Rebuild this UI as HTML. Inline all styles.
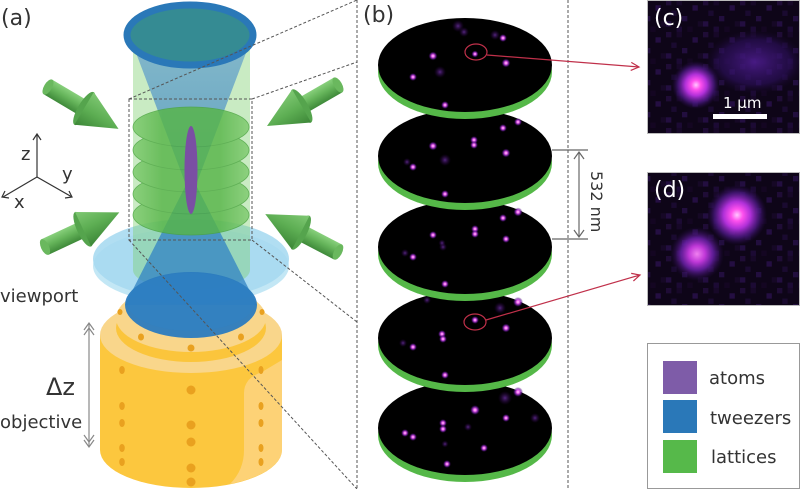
<!DOCTYPE html>
<html><head><meta charset="utf-8"><style>html,body{margin:0;padding:0;background:#fff;width:800px;height:489px;overflow:hidden}svg{display:block}text{font-family:"DejaVu Sans","Liberation Sans",sans-serif}</style></head><body>
<svg width="800" height="489" viewBox="0 0 800 489" xmlns="http://www.w3.org/2000/svg">
<defs>
<linearGradient id="shaft" x1="0" y1="0" x2="0" y2="1"><stop offset="0" stop-color="#88d07c"/><stop offset="0.45" stop-color="#66b55b"/><stop offset="1" stop-color="#3f8a3a"/></linearGradient>
<linearGradient id="cone" x1="0" y1="0" x2="0" y2="1"><stop offset="0" stop-color="#7fc873"/><stop offset="0.5" stop-color="#5dae53"/><stop offset="1" stop-color="#3c8637"/></linearGradient>
<linearGradient id="disk" x1="0" y1="0" x2="1" y2="0"><stop offset="0" stop-color="#7dca6d"/><stop offset="0.25" stop-color="#57b548"/><stop offset="0.75" stop-color="#57b548"/><stop offset="1" stop-color="#80cb70"/></linearGradient>
<linearGradient id="upcone" x1="0" y1="0" x2="0" y2="1"><stop offset="0" stop-color="#6aa6cc"/><stop offset="1" stop-color="#3f88c0"/></linearGradient>
<radialGradient id="spot"><stop offset="0" stop-color="#ffd8ff"/><stop offset="0.3" stop-color="#f060f0"/><stop offset="0.65" stop-color="#7a24b0" stop-opacity="0.7"/><stop offset="1" stop-color="#300050" stop-opacity="0"/></radialGradient>
<radialGradient id="faint"><stop offset="0" stop-color="#6a30a0" stop-opacity="0.8"/><stop offset="1" stop-color="#300050" stop-opacity="0"/></radialGradient>
<radialGradient id="blob"><stop offset="0" stop-color="#ffc8ff"/><stop offset="0.2" stop-color="#ff50ee"/><stop offset="0.45" stop-color="#b030d8"/><stop offset="0.75" stop-color="#4a1880" stop-opacity="0.8"/><stop offset="1" stop-color="#2a0c50" stop-opacity="0"/></radialGradient>
<radialGradient id="blob2"><stop offset="0" stop-color="#f080f0"/><stop offset="0.3" stop-color="#c038d8"/><stop offset="0.6" stop-color="#6a20a8" stop-opacity="0.85"/><stop offset="1" stop-color="#2a0c50" stop-opacity="0"/></radialGradient>
<radialGradient id="cloud"><stop offset="0" stop-color="#4c1c8c" stop-opacity="0.9"/><stop offset="0.7" stop-color="#2e1060" stop-opacity="0.6"/><stop offset="1" stop-color="#1a0830" stop-opacity="0"/></radialGradient>
<pattern id="noise" width="37" height="32" patternUnits="userSpaceOnUse">
<rect x="0" y="0" width="5.3" height="5.3" fill="#1f0c36"/>
<rect x="10.6" y="0" width="5.3" height="5.3" fill="#170828"/>
<rect x="26.5" y="5.3" width="5.3" height="5.3" fill="#240e42"/>
<rect x="5.3" y="10.6" width="5.3" height="5.3" fill="#1a0a30"/>
<rect x="16" y="16" width="5.3" height="5.3" fill="#220e3e"/>
<rect x="31.8" y="21.3" width="5.3" height="5.3" fill="#160826"/>
<rect x="0" y="21.3" width="5.3" height="5.3" fill="#230e40"/>
<rect x="10.6" y="26.6" width="5.3" height="5.3" fill="#1c0a34"/>
<rect x="21.3" y="26.6" width="5.3" height="5.3" fill="#140622"/>
</pattern>
<g id="arr">
<rect x="0" y="-8.5" width="46" height="17" fill="url(#shaft)"/>
<ellipse cx="0" cy="0" rx="4" ry="8.5" fill="#6ab85e"/>
<ellipse cx="42" cy="0" rx="6" ry="19" fill="#55a44d"/>
<path d="M42,-19 L82,0 L42,19 Z" fill="url(#cone)"/>
</g>
</defs>

<!-- Objective -->
<path d="M100,335 L100,450 A91,38 0 0 0 282,450 L282,335 Z" fill="#fcc73e"/>
<path d="M282,360 L282,450 A91,38 0 0 1 230,484 Q244,470 244,450 L244,393 Q244,378 262,372 Z" fill="#fdd480" opacity="0.85"/>
<ellipse cx="191" cy="335" rx="91" ry="38" fill="#f9d68b"/>
<ellipse cx="191" cy="328" rx="75" ry="34" fill="#fbc53c"/>
<ellipse cx="191" cy="318" rx="75" ry="34" fill="#f9d68b"/>
<g fill="#e9a11f">
<ellipse cx="120" cy="312" rx="2.5" ry="3"/><ellipse cx="141" cy="337" rx="3" ry="3.5"/><ellipse cx="191" cy="348" rx="3.5" ry="3.5"/><ellipse cx="241" cy="337" rx="3" ry="3.5"/><ellipse cx="262" cy="312" rx="2.5" ry="3"/>
<ellipse cx="122" cy="370" rx="2.8" ry="4"/><ellipse cx="122" cy="406" rx="2.8" ry="4"/><ellipse cx="122" cy="423" rx="2.8" ry="4"/><ellipse cx="122" cy="448" rx="2.8" ry="4"/><ellipse cx="122" cy="462" rx="2.8" ry="4"/>
<circle cx="191" cy="390" r="4.5"/><circle cx="191" cy="425" r="4.5"/><circle cx="191" cy="442" r="4.5"/><circle cx="191" cy="468" r="4.5"/><circle cx="191" cy="482" r="4.5"/>
<ellipse cx="261" cy="370" rx="2.5" ry="4"/><ellipse cx="261" cy="406" rx="2.5" ry="4"/><ellipse cx="261" cy="423" rx="2.5" ry="4"/><ellipse cx="261" cy="448" rx="2.5" ry="4"/><ellipse cx="261" cy="462" rx="2.5" ry="4"/>
</g>

<!-- Viewport -->
<ellipse cx="191" cy="266" rx="98" ry="38" fill="#bde4f4" opacity="0.9"/>
<ellipse cx="191" cy="259" rx="98" ry="40" fill="#a6daf0" opacity="0.88"/>

<!-- Green lattice cylinder -->
<path d="M133,40 L250,40 L250,270 A58.5,20 0 0 1 133,270 Z" fill="#7fcf6f" opacity="0.42"/>

<!-- Tweezer cones -->
<polygon points="133,45 249,45 196,185 186,185" fill="url(#upcone)" opacity="0.75"/>
<polygon points="186,185 196,185 257,305 125,305" fill="#3485c4" opacity="0.78"/>
<ellipse cx="191" cy="305" rx="66" ry="33" fill="#2b7bbf" opacity="0.95"/>
<ellipse cx="191" cy="302" rx="64" ry="29" fill="#2f82c4" opacity="0.5"/>

<!-- Lattice disks -->
<g opacity="0.82">
<ellipse cx="191" cy="215" rx="58" ry="20" fill="url(#disk)" stroke="#4aa43f" stroke-width="0.8"/>
<ellipse cx="191" cy="194" rx="58" ry="20" fill="url(#disk)" stroke="#4aa43f" stroke-width="0.8"/>
<ellipse cx="191" cy="172" rx="58" ry="20" fill="url(#disk)" stroke="#4aa43f" stroke-width="0.8"/>
<ellipse cx="191" cy="150" rx="58" ry="20" fill="url(#disk)" stroke="#4aa43f" stroke-width="0.8"/>
<ellipse cx="191" cy="127" rx="58" ry="20" fill="url(#disk)" stroke="#4aa43f" stroke-width="0.8"/>
</g>

<!-- Atom -->
<ellipse cx="191" cy="170" rx="6.5" ry="44" fill="#7a4fa3"/>

<!-- Top tweezer ring -->
<ellipse cx="190" cy="35" rx="63" ry="30" fill="#358b93" stroke="#2a78b8" stroke-width="7"/>

<!-- Arrows -->
<use href="#arr" transform="translate(48,87) rotate(30.7)"/>
<use href="#arr" transform="translate(338,85) rotate(150) scale(1,-1)"/>
<use href="#arr" transform="translate(45,247) rotate(-25)"/>
<use href="#arr" transform="translate(338,252) rotate(-152.5) scale(1,-1)"/>

<!-- Dashed -->
<g stroke="#555" stroke-width="1" stroke-dasharray="3,2" fill="none">
<rect x="129" y="99" width="123" height="141"/>
<line x1="129" y1="99" x2="357" y2="0"/>
<line x1="252" y1="99" x2="357" y2="62"/>
<line x1="129" y1="240" x2="357" y2="489"/>
<line x1="252" y1="240" x2="357" y2="322"/>
<line x1="357" y1="0" x2="357" y2="489"/>
<line x1="568" y1="0" x2="568" y2="489"/>
</g>

<!-- Axes -->
<g stroke="#333" stroke-width="1.2" fill="none">
<line x1="37" y1="177" x2="37" y2="135"/><polyline points="33,140 37,134 41,140"/>
<line x1="37" y1="177" x2="3" y2="197"/><polyline points="5,191 2,197 9,198"/>
<line x1="37" y1="177" x2="72" y2="197"/><polyline points="65,198 72,197 69,191"/>
</g>
<text x="21" y="160" font-size="18" fill="#333">z</text>
<text x="62" y="180" font-size="18" fill="#333">y</text>
<text x="14" y="208" font-size="18" fill="#333">x</text>

<text x="1" y="25" font-size="22" fill="#333">(a)</text>
<text x="0" y="302" font-size="18" fill="#333">viewport</text>
<text x="0" y="428" font-size="18" fill="#333">objective</text>
<text x="46" y="395" font-size="24" fill="#333">Δz</text>
<g stroke="#888" stroke-width="1.2" fill="none">
<line x1="89" y1="324" x2="89" y2="446"/>
<polyline points="84,330 89,323 94,330"/><polyline points="84,335 89,328 94,335"/>
<polyline points="84,440 89,447 94,440"/><polyline points="84,435 89,442 94,435"/>
</g>

<!-- Panel b -->
<text x="363" y="22" font-size="22" fill="#333">(b)</text>
<g>
<ellipse cx="465" cy="435" rx="87" ry="47" fill="#55b848"/><ellipse cx="465" cy="428" rx="87" ry="47" fill="#000"/>
<ellipse cx="465" cy="345" rx="87" ry="47" fill="#55b848"/><ellipse cx="465" cy="338" rx="87" ry="47" fill="#000"/>
</g>
<g>
<circle cx="518" cy="392" r="5" fill="url(#spot)"/><circle cx="475" cy="410" r="5" fill="url(#spot)"/><circle cx="506" cy="418" r="4" fill="url(#spot)"/><circle cx="443" cy="423" r="4" fill="url(#spot)"/><circle cx="443" cy="429" r="4" fill="url(#spot)"/><circle cx="405" cy="433" r="4" fill="url(#spot)"/><circle cx="413" cy="437" r="4" fill="url(#spot)"/><circle cx="468" cy="427" r="4" fill="url(#faint)"/><circle cx="484" cy="448" r="4" fill="url(#spot)"/><circle cx="445" cy="444" r="3.5" fill="url(#faint)"/><circle cx="447" cy="464" r="4" fill="url(#spot)"/><circle cx="535" cy="418" r="5" fill="url(#faint)"/><circle cx="505" cy="398" r="7" fill="url(#faint)"/>
</g>
<g>
<ellipse cx="465" cy="254" rx="87" ry="47" fill="#55b848"/><ellipse cx="465" cy="247" rx="87" ry="47" fill="#000"/>
</g>
<g>
<circle cx="518" cy="302" r="5" fill="url(#spot)"/><circle cx="506" cy="328" r="4.5" fill="url(#spot)"/><circle cx="442" cy="334" r="4" fill="url(#spot)"/><circle cx="443" cy="339" r="4" fill="url(#spot)"/><circle cx="413" cy="347" r="4" fill="url(#spot)"/><circle cx="403" cy="343" r="4" fill="url(#faint)"/><circle cx="445" cy="375" r="4" fill="url(#spot)"/><circle cx="427" cy="300" r="4" fill="url(#faint)"/><circle cx="475" cy="320" r="4" fill="url(#spot)"/><circle cx="500" cy="308" r="6" fill="url(#faint)"/>
</g>
<g>
<ellipse cx="465" cy="163" rx="87" ry="47" fill="#55b848"/><ellipse cx="465" cy="156" rx="87" ry="47" fill="#000"/>
</g>
<g>
<circle cx="518" cy="212" r="4.5" fill="url(#spot)"/><circle cx="503" cy="218" r="4" fill="url(#spot)"/><circle cx="475" cy="229" r="4" fill="url(#spot)"/><circle cx="475" cy="234" r="4" fill="url(#spot)"/><circle cx="433" cy="235" r="4" fill="url(#spot)"/><circle cx="506" cy="239" r="4" fill="url(#spot)"/><circle cx="413" cy="257" r="4" fill="url(#spot)"/><circle cx="405" cy="253" r="4" fill="url(#faint)"/><circle cx="445" cy="284" r="4" fill="url(#spot)"/><circle cx="443" cy="247" r="4" fill="url(#faint)"/><circle cx="442" cy="243" r="3.5" fill="url(#faint)"/>
<circle cx="433" cy="146" r="4.5" fill="url(#spot)"/><circle cx="474" cy="140" r="4" fill="url(#spot)"/><circle cx="474" cy="145" r="4" fill="url(#spot)"/><circle cx="503" cy="128" r="4" fill="url(#spot)"/><circle cx="518" cy="122" r="4" fill="url(#spot)"/><circle cx="506" cy="153" r="4.5" fill="url(#spot)"/><circle cx="413" cy="167" r="4" fill="url(#spot)"/><circle cx="407" cy="162" r="4" fill="url(#faint)"/><circle cx="445" cy="194" r="4" fill="url(#spot)"/><circle cx="445" cy="160" r="6" fill="url(#faint)"/>
</g>
<g>
<ellipse cx="465" cy="72" rx="87" ry="47" fill="#55b848"/><ellipse cx="465" cy="65" rx="87" ry="47" fill="#000"/>
</g>
<g>
<circle cx="433" cy="56" r="4.5" fill="url(#spot)"/><circle cx="503" cy="38" r="4" fill="url(#spot)"/><circle cx="506" cy="63" r="4.5" fill="url(#spot)"/><circle cx="413" cy="77" r="4" fill="url(#spot)"/><circle cx="445" cy="105" r="4" fill="url(#spot)"/><circle cx="475" cy="54" r="3.5" fill="url(#spot)"/><circle cx="458" cy="26" r="6" fill="url(#faint)"/><circle cx="464" cy="32" r="5" fill="url(#faint)"/><circle cx="440" cy="72" r="6" fill="url(#faint)"/><circle cx="495" cy="35" r="5" fill="url(#faint)"/>
</g>
<g stroke="#c0304a" stroke-width="1.2" fill="none">
<ellipse cx="476" cy="52" rx="11" ry="8"/>
<line x1="487" y1="55" x2="639" y2="67"/>
<polyline points="631.3,62.4 639,67 630.7,70.4"/>
<ellipse cx="475" cy="322" rx="11" ry="8"/>
<line x1="486" y1="320" x2="640" y2="275"/>
<polyline points="631.2,273.4 640,275 633.4,281"/>
</g>
<g stroke="#666" stroke-width="1.2" fill="none">
<line x1="552" y1="150" x2="588" y2="150"/>
<line x1="552" y1="239" x2="588" y2="239"/>
<line x1="579" y1="152" x2="579" y2="237"/>
<polyline points="574,159 579,152 584,159"/>
<polyline points="574,230 579,237 584,230"/>
</g>
<text transform="translate(591,171) rotate(90)" font-size="16" fill="#333">532 nm</text>

<!-- Panel c -->
<rect x="647" y="0" width="153" height="134" fill="#0e0518"/>
<rect x="647" y="0" width="153" height="134" fill="url(#noise)"/>
<ellipse cx="755" cy="62" rx="50" ry="32" fill="url(#cloud)"/>
<circle cx="696" cy="85" r="24" fill="url(#blob)"/>
<rect x="713" y="114" width="54" height="5" fill="#fff"/>
<text x="723" y="108" font-size="15" fill="#fff">1 μm</text>
<text x="654" y="25" font-size="22" fill="#fff">(c)</text>
<rect x="647.5" y="0.5" width="152" height="133" fill="none" stroke="#bbb"/>

<!-- Panel d -->
<rect x="647" y="172" width="153" height="134" fill="#0e0518"/>
<rect x="647" y="172" width="153" height="134" fill="url(#noise)"/>
<circle cx="697" cy="254" r="27" fill="url(#blob2)"/>
<circle cx="737" cy="215" r="30" fill="url(#blob)"/>
<text x="654" y="197" font-size="22" fill="#fff">(d)</text>
<rect x="647.5" y="172.5" width="152" height="133" fill="none" stroke="#bbb"/>

<!-- Legend -->
<rect x="647.5" y="343.5" width="152" height="145" fill="#fff" stroke="#999"/>
<rect x="663" y="361" width="34" height="33" fill="#7e5ca8"/>
<rect x="663" y="400" width="34" height="33" fill="#2a78b8"/>
<rect x="663" y="440" width="34" height="33" fill="#56b94a"/>
<text x="709" y="384" font-size="18" fill="#333">atoms</text>
<text x="710" y="424" font-size="18" fill="#333">tweezers</text>
<text x="711" y="463" font-size="18" fill="#333">lattices</text>
</svg>
</body></html>
